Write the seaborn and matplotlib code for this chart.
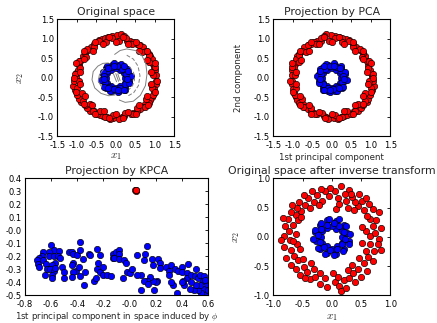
import numpy as np
import matplotlib
matplotlib.use("Agg")
import matplotlib.pyplot as plt
import seaborn as sns

# ---- data ----
# original space, outer ring (class 0, red)
outer_x = [-0.44, -0.36, -0.27, -0.19, -0.09, 0.03, 0.14, 0.21, 0.28, 0.37, 0.45, 0.54, 0.62, 0.71, 0.77, 0.84,
           0.88, 0.92, 0.95, 0.98, 1.01, 1.03, 1.03, 1.03, 0.99, 0.97, 0.92, 0.88, 0.84, 0.75, 0.68, 0.62,
           0.54, 0.45, 0.39, 0.20, 0.15, 0.07, -0.06, -0.15, -0.23, -0.32, -0.40, -0.49, -0.57, -0.66, -0.74, -0.80,
           -0.89, -0.94, -0.99, -1.04, -1.09, -1.06, -1.03, -1.01, -0.98, -0.94, -0.91, -0.85, -0.79, -0.72, -0.63, -0.55,
           0.95, 1.01, 0.85, 0.84, 0.67, 0.60, 0.41, 0.27, 0.08, -0.09, -0.25, -0.44, -0.55, -0.73, -0.77, -0.95,
           -0.93, -1.05, -0.95, -1.00, -0.86, -0.85, -0.67, -0.59, -0.40, -0.27, -0.08, 0.09, 0.24, 0.43, 0.54, 0.74,
           0.77, 0.95, 0.92, 1.06,
           0.91, 1.01, 0.80, 0.81, 0.59, 0.53, 0.32, 0.19, 0.00, -0.18, -0.32, -0.54, -0.59, -0.81, -0.81, -1.01,
           -0.91, -1.06, -0.92, -1.01, -0.80, -0.81, -0.60, -0.54, -0.31, -0.18, 0.00, 0.18, 0.32, 0.53, 0.59, 0.82,
           0.81, 1.00, 0.91]
outer_y = [0.96, 1.00, 1.03, 1.04, 1.06, 1.09, 1.13, 1.07, 0.94, 0.94, 0.91, 0.87, 0.83, 0.79, 0.70, 0.62,
           0.55, 0.49, 0.36, 0.27, 0.19, 0.06, -0.07, -0.15, -0.28, -0.39, -0.50, -0.58, -0.65, -0.68, -0.74, -0.79,
           -0.84, -0.90, -0.94, -0.99, -1.01, -1.03, -1.03, -1.05, -1.01, -0.98, -0.95, -0.92, -0.86, -0.84, -0.77, -0.71,
           -0.62, -0.54, -0.43, -0.32, -0.22, -0.07, 0.02, 0.12, 0.21, 0.32, 0.43, 0.55, 0.63, 0.72, 0.79, 0.87,
           0.08, 0.27, 0.40, 0.59, 0.67, 0.85, 0.87, 1.01, 0.95, 1.03, 0.92, 0.94, 0.79, 0.73, 0.54, 0.44,
           0.25, 0.09, -0.08, -0.27, -0.40, -0.60, -0.67, -0.84, -0.85, -1.01, -0.95, -1.06, -0.91, -0.92, -0.78, -0.74,
           -0.54, -0.44, -0.25, -0.09,
           0.16, 0.37, 0.46, 0.68, 0.70, 0.92, 0.87, 1.05, 0.92, 1.04, 0.87, 0.93, 0.70, 0.68, 0.47, 0.37,
           0.16, 0.00, -0.16, -0.37, -0.46, -0.68, -0.71, -0.93, -0.86, -1.04, -0.93, -1.03, -0.87, -0.92, -0.70, -0.69,
           -0.47, -0.36, -0.16]

# original space, inner ring (class 1, blue)
inner_x = [0.24, 0.32, 0.22, 0.24, 0.12, 0.09, 0.00, -0.09, -0.12, -0.24, -0.22, -0.34, -0.24, -0.32, -0.22, -0.25,
           -0.12, -0.09, 0.00, 0.09, 0.12, 0.23, 0.23, 0.34,
           0.38, 0.27, 0.29, 0.17, 0.14, 0.04, -0.05, -0.11, -0.23, -0.23, -0.34, -0.29, -0.38, -0.27, -0.29, -0.17,
           -0.14, -0.04, 0.05, 0.11, 0.23, 0.23, 0.34, 0.29,
           0.30, 0.20, -0.05, -0.20, -0.30, -0.19, 0.05, 0.21]
inner_y = [0.00, 0.09, 0.13, 0.24, 0.21, 0.34, 0.25, 0.32, 0.20, 0.24, 0.13, 0.09, 0.00, -0.09, -0.13, -0.25,
           -0.21, -0.33, -0.25, -0.34, -0.20, -0.23, -0.13, -0.09,
           0.05, 0.11, 0.23, 0.23, 0.35, 0.29, 0.37, 0.27, 0.30, 0.17, 0.14, 0.04, -0.05, -0.11, -0.23, -0.23,
           -0.35, -0.29, -0.37, -0.27, -0.30, -0.17, -0.14, -0.04,
           0.18, 0.29, 0.30, 0.25, -0.02, -0.27, -0.30, -0.30]

# grey contour lines of the first kernel component (original space panel)
contour_right_x = [-0.03, 0.11, 0.28, 0.50, 0.67, 0.77, 0.80, 0.76, 0.63, 0.45, 0.24, 0.09]
contour_right_y = [0.60, 0.70, 0.74, 0.70, 0.57, 0.36, 0.10, -0.20, -0.45, -0.60, -0.63, -0.57]
contour_left_x = [-0.19, -0.33, -0.46, -0.58, -0.61, -0.54, -0.38, -0.18, -0.02]
contour_left_y = [0.38, 0.37, 0.30, 0.16, -0.05, -0.26, -0.40, -0.46, -0.44]
contour_left2_x = [-0.30, -0.42, -0.45, -0.36]
contour_left2_y = [0.24, 0.08, -0.09, -0.24]
dashed_outer_x = [0.28, 0.45, 0.57, 0.62, 0.58, 0.46, 0.32]
dashed_outer_y = [0.58, 0.48, 0.30, 0.05, -0.20, -0.38, -0.46]
dashed_inner_x = [0.36, 0.46, 0.48, 0.43, 0.34]
dashed_inner_y = [0.28, 0.12, -0.05, -0.20, -0.30]
center_lines_x = [[-0.06, 0.02], [0.00, 0.07], [0.05, 0.11]]
center_lines_y = [[0.10, -0.10], [0.11, -0.09], [0.10, -0.07]]

# projection by KPCA
kpca_red_x = [0.045, 0.050, 0.048, 0.052]
kpca_red_y = [0.310, 0.305, 0.313, 0.309]
kpca_blue_x = [-0.60, -0.58, -0.54, -0.66, -0.62, -0.67, -0.69, -0.71, -0.70, -0.69, -0.66, -0.64, -0.62, -0.58,
               -0.55, -0.53, -0.57, -0.59, -0.63, -0.61, -0.58, -0.57, -0.65, -0.59, -0.59, -0.52, -0.50, -0.50,
               -0.46, -0.44, -0.43, -0.40, -0.38, -0.38, -0.43, -0.44, -0.41, -0.43, -0.44, -0.39, -0.38, -0.35,
               -0.36, -0.34, -0.31, -0.30, -0.25, -0.23, -0.24, -0.25, -0.23, -0.27, -0.26, -0.20, -0.20, -0.17,
               -0.14, -0.13, -0.13, -0.10,
               -0.08, -0.08, -0.12, -0.08, -0.04, -0.03, -0.02, 0.00, 0.02, -0.05, 0.06, 0.13, 0.12, 0.11,
               0.17, 0.22, 0.23, 0.18, 0.23, 0.28, 0.30, 0.30, 0.32, 0.35, 0.37, 0.40, 0.40, 0.45, 0.44, 0.44,
               0.47, 0.51, 0.50, 0.52, 0.54, 0.56, 0.57, 0.59, 0.56, 0.55, 0.52, 0.49, 0.46, 0.42, 0.41, 0.40,
               0.36, 0.33, 0.32, 0.21, 0.20, 0.18, 0.16, 0.13, 0.11, 0.09, 0.14, 0.19, 0.09, 0.06, 0.59, 0.60,
               0.54, 0.51, 0.47, 0.58]
kpca_blue_y = [-0.11, -0.15, -0.16, -0.17, -0.17, -0.20, -0.21, -0.23, -0.26, -0.28, -0.23, -0.26, -0.20, -0.20,
               -0.20, -0.21, -0.25, -0.27, -0.30, -0.30, -0.31, -0.29, -0.34, -0.34, -0.37, -0.28, -0.32, -0.37,
               -0.17, -0.17, -0.18, -0.19, -0.09, -0.15, -0.25, -0.27, -0.31, -0.32, -0.36, -0.28, -0.35, -0.42,
               -0.22, -0.32, -0.18, -0.19, -0.14, -0.19, -0.25, -0.30, -0.32, -0.39, -0.37, -0.28, -0.34, -0.34,
               -0.35, -0.18, -0.21, -0.17,
               -0.15, -0.18, -0.21, -0.22, -0.23, -0.25, -0.32, -0.33, -0.30, -0.37, -0.19, -0.12, -0.18, -0.23,
               -0.22, -0.22, -0.25, -0.27, -0.29, -0.28, -0.31, -0.34, -0.27, -0.30, -0.31, -0.28, -0.32, -0.26,
               -0.33, -0.37, -0.34, -0.30, -0.35, -0.37, -0.34, -0.39, -0.35, -0.42, -0.45, -0.48, -0.46, -0.46,
               -0.45, -0.42, -0.39, -0.40, -0.48, -0.42, -0.40, -0.39, -0.40, -0.39, -0.36, -0.39, -0.39, -0.46,
               -0.41, -0.46, -0.34, -0.34, -0.49, -0.46, -0.42, -0.42, -0.40, -0.38]

# original space after inverse transform
inv_outer_x = [0.66, 0.81, 0.74, 0.58, 0.84, 0.70, 0.76, 0.52, 0.65, 0.80, 0.60, 0.70, 0.55, 0.63, 0.45, 0.52,
               0.40, 0.47, 0.35, 0.30, 0.25, 0.22, 0.15, 0.10, 0.06, 0.07, 0.12, 0.28, 0.38, 0.58, 0.33,
               -0.03, -0.05, -0.12, -0.18, -0.16, -0.25, -0.30, -0.34, -0.40, -0.45, -0.48, -0.52, -0.56, -0.60,
               -0.62, -0.70, -0.75, -0.84, -0.58, -0.66, -0.80, -0.62, -0.74, -0.81, -0.52, -0.38, -0.22, -0.68,
               -0.72, -0.60, -0.82, -0.70, -0.55, -0.78, -0.65, -0.58, -0.70, -0.50, -0.62, -0.48, -0.55, -0.42,
               -0.38, -0.30, -0.28, -0.21, -0.20, -0.12, -0.08, -0.45, -0.35, -0.66, -0.86,
               0.02, 0.05, 0.13, 0.16, 0.10, 0.20, 0.27, 0.30, 0.36, 0.40, 0.45, 0.50, 0.47, 0.55, 0.60, 0.62,
               0.70, 0.58, 0.72, 0.79, 0.66, 0.84, 0.52, 0.35, 0.24]
inv_outer_y = [0.01, -0.03, 0.07, 0.10, 0.15, 0.19, 0.28, 0.17, 0.30, 0.42, 0.36, 0.47, 0.46, 0.56, 0.52, 0.62,
               0.60, 0.73, 0.68, 0.80, 0.62, 0.73, 0.86, 0.66, 0.78, 0.47, 0.56, 0.50, 0.45, 0.66, 0.74,
               0.84, 0.70, 0.79, 0.81, 0.62, 0.72, 0.60, 0.78, 0.67, 0.55, 0.72, 0.44, 0.60, 0.50,
               0.38, 0.42, 0.30, 0.32, 0.28, 0.20, 0.18, 0.05, 0.10, 0.01, 0.33, 0.50, 0.55, 0.55,
               -0.06, -0.12, -0.18, -0.22, -0.20, -0.36, -0.33, -0.40, -0.48, -0.38, -0.55, -0.52, -0.65, -0.60,
               -0.72, -0.55, -0.68, -0.62, -0.80, -0.70, -0.85, -0.70, -0.45, -0.08, -0.05,
               -0.62, -0.78, -0.84, -0.93, -0.68, -0.74, -0.56, -0.70, -0.62, -0.78, -0.55, -0.68, -0.36, -0.45,
               -0.58, -0.35, -0.42, -0.25, -0.25, -0.13, -0.12, -0.22, -0.10, -0.48, -0.88]
inv_inner_x = [0.17, 0.26, 0.17, 0.21, 0.08, 0.07, 0.00, -0.08, -0.09, -0.20, -0.17, -0.29, -0.18, -0.27, -0.17,
               -0.21, -0.09, -0.08, 0.00, 0.08, 0.09, 0.20, 0.17, 0.29,
               0.31, 0.20, 0.24, 0.13, 0.12, 0.03, -0.04, -0.09, -0.19, -0.18, -0.29, -0.23, -0.32, -0.21, -0.24,
               -0.14, -0.12, -0.03, 0.04, 0.09, 0.19, 0.18, 0.29, 0.23]
inv_inner_y = [0.00, 0.07, 0.10, 0.21, 0.14, 0.27, 0.19, 0.28, 0.15, 0.20, 0.10, 0.08, 0.00, -0.07, -0.10,
               -0.21, -0.15, -0.28, -0.20, -0.29, -0.16, -0.20, -0.10, -0.08,
               0.04, 0.09, 0.19, 0.18, 0.30, 0.23, 0.31, 0.21, 0.24, 0.14, 0.12, 0.03, -0.04, -0.09, -0.19,
               -0.18, -0.30, -0.22, -0.31, -0.21, -0.24, -0.13, -0.12, -0.03]

# PCA on the centred circles is only a reflection of the original axes
pca_outer_x = [-v for v in outer_x]
pca_inner_x = [-v for v in inner_x]

# ---- style ----
sns.set_style("white", {"xtick.direction": "in", "ytick.direction": "in",
                        "axes.edgecolor": "black", "axes.linewidth": 0.8})
plt.rcParams["font.family"] = ["DejaVu Sans"]
plt.rcParams["mathtext.fontset"] = "cm"

fig = plt.figure(figsize=(4.37, 3.23), dpi=100)
W, H = 437.0, 323.0


def axes_at(x0, y0, x1, y1):
    return fig.add_axes([x0 / W, 1 - y1 / H, (x1 - x0) / W, (y1 - y0) / H])


ax1 = axes_at(57.3, 19.3, 174.3, 136.3)
ax2 = axes_at(273.3, 19.3, 390.3, 136.3)
ax3 = axes_at(25.0, 178.3, 208.0, 295.3)
ax4 = axes_at(273.3, 178.3, 390.3, 295.3)

pt = dict(s=21, edgecolor="black", linewidth=0.45, legend=False)


def dots(ax, x, y, color):
    sns.scatterplot(x=x, y=y, color=color, ax=ax, **pt)


# original space
dots(ax1, outer_x, outer_y, "red")
dots(ax1, inner_x, inner_y, "blue")
grey = dict(color="grey", lw=0.7, zorder=3)
ax1.plot(contour_right_x, contour_right_y, **grey)
ax1.plot(contour_left_x, contour_left_y, **grey)
ax1.plot(contour_left2_x, contour_left2_y, **grey)
ax1.plot(dashed_outer_x, dashed_outer_y, ls=(0, (4, 2)), **grey)
ax1.plot(dashed_inner_x, dashed_inner_y, ls=(0, (4, 2)), **grey)
for lx, ly in zip(center_lines_x, center_lines_y):
    ax1.plot(lx, ly, **grey)
ax1.set_title("Original space")
ax1.set_xlabel("$x_1$")
ax1.set_ylabel("$x_2$")

# projection by PCA
dots(ax2, pca_outer_x, outer_y, "red")
dots(ax2, pca_inner_x, inner_y, "blue")
ax2.set_title("Projection by PCA")
ax2.set_xlabel("1st principal component")
ax2.set_ylabel("2nd component")

for ax in (ax1, ax2):
    ax.set_xlim(-1.5, 1.5)
    ax.set_ylim(-1.5, 1.5)
    ax.set_xticks(np.arange(-1.5, 1.51, 0.5))
    ax.set_yticks(np.arange(-1.5, 1.51, 0.5))

# projection by KPCA
dots(ax3, kpca_red_x, kpca_red_y, "red")
dots(ax3, kpca_blue_x, kpca_blue_y, "blue")
ax3.set_title("Projection by KPCA")
ax3.set_xlabel(r"1st principal component in space induced by $\phi$")
ax3.set_xlim(-0.8, 0.6)
ax3.set_ylim(-0.5, 0.4)
ax3.set_xticks(np.arange(-0.8, 0.61, 0.2))
ax3.set_yticks(np.arange(-0.5, 0.41, 0.1))

# inverse transform
dots(ax4, inv_outer_x, inv_outer_y, "red")
dots(ax4, inv_inner_x, inv_inner_y, "blue")
ax4.set_title("Original space after inverse transform")
ax4.set_xlabel("$x_1$")
ax4.set_ylabel("$x_2$")
ax4.set_xlim(-1, 1)
ax4.set_ylim(-1, 1)
ax4.set_xticks(np.arange(-1, 1.01, 0.5))
ax4.set_yticks(np.arange(-1, 1.01, 0.5))

for ax in (ax1, ax2, ax3, ax4):
    ax.set_title(ax.get_title(), fontsize=7.8, pad=3)
    ax.xaxis.label.set_fontsize(6.2)
    ax.yaxis.label.set_fontsize(6.2)
    ax.tick_params(labelsize=6, length=2.5, width=0.6, top=True, right=True,
                   direction="in", colors="black")
    ax.tick_params(axis="x", pad=3.5)
    ax.tick_params(axis="y", pad=2.5)
    ax.xaxis.set_major_formatter(matplotlib.ticker.FormatStrFormatter("%.1f"))
    ax.yaxis.set_major_formatter(matplotlib.ticker.FormatStrFormatter("%.1f"))
    for s in ax.spines.values():
        s.set_color("black")
        s.set_linewidth(0.8)

# math labels read larger than the plain ones
for lab in (ax1.xaxis.label, ax1.yaxis.label, ax4.xaxis.label, ax4.yaxis.label):
    lab.set_fontsize(8)

ax1.xaxis.set_label_coords(0.5, -0.13)
ax2.xaxis.set_label_coords(0.5, -0.145)
ax3.xaxis.set_label_coords(0.5, -0.125)
ax4.xaxis.set_label_coords(0.5, -0.145)
ax1.yaxis.set_label_coords(-0.27, 0.5)
ax2.yaxis.set_label_coords(-0.26, 0.5)
ax4.yaxis.set_label_coords(-0.265, 0.5)

fig.savefig("out.png", dpi=100)
